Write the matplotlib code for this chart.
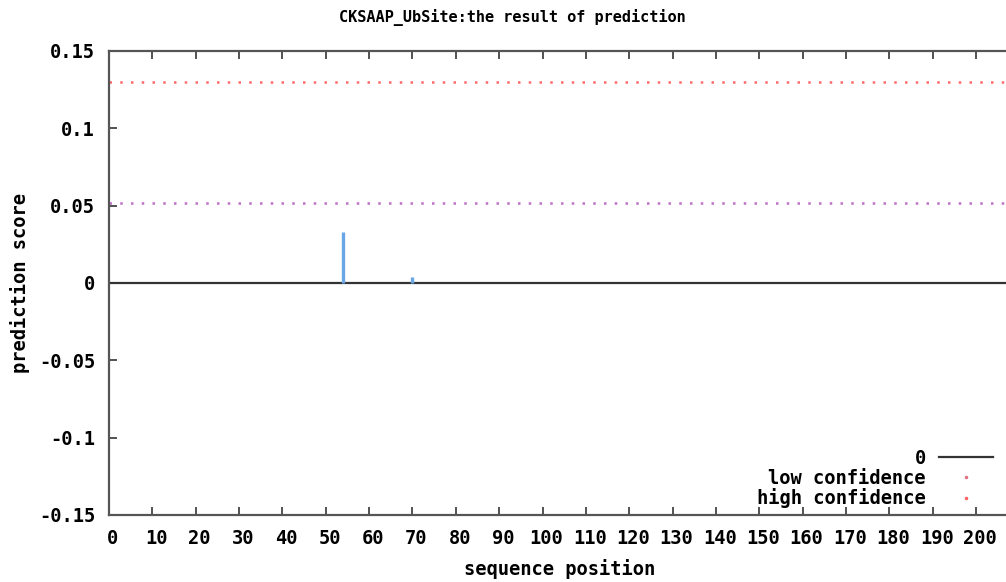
import matplotlib
matplotlib.use("Agg")
import matplotlib.pyplot as plt
import matplotlib.transforms as mtransforms
from matplotlib.lines import Line2D

# sequence positions with a non-zero prediction score
positions = [54, 70]
scores = [0.033, 0.004]

low_threshold = 0.052
high_threshold = 0.13

x_ticks = list(range(0, 210, 10))
y_ticks = [-0.15, -0.1, -0.05, 0, 0.05, 0.1, 0.15]
y_labels = ["-0.15", "-0.1", "-0.05", "0", "0.05", "0.1", "0.15"]

font = {"family": "DejaVu Sans Mono", "weight": "bold", "size": 13.5}
title_font = {"family": "DejaVu Sans Mono", "weight": "bold", "size": 11}
plt.rcParams['font.family'] = 'DejaVu Sans Mono'
plt.rcParams['font.weight'] = 'bold'

fig = plt.figure(figsize=(10.06, 5.82), dpi=100)
W, H = 1006, 582
left, right, top, bottom = 109, 109 + 215 * 4.335, 51, 515
ax = fig.add_axes([left / W, 1 - bottom / H, (right - left) / W, (bottom - top) / H])

xmax = 215
ax.plot([0, xmax], [0, 0], color='#333333', linewidth=1.6)
ax.plot([0, xmax], [low_threshold] * 2, linestyle=(0, (1, 3.3)), color='#c070c8',
        linewidth=1.8)
ax.plot([0, xmax], [high_threshold] * 2, linestyle=(0, (1, 3.3)), color='#ff6a6a',
        linewidth=1.8)
ax.vlines(positions, 0, scores, color='#6aa6e6', linewidth=2.4)

ax.set_xlim(0, xmax)
ax.set_ylim(-0.15, 0.15)
ax.set_xticks(x_ticks)
ax.set_xticklabels([str(t) for t in x_ticks], fontdict=font)
ax.set_yticks(y_ticks)
ax.set_yticklabels(y_labels, fontdict=font)
ax.tick_params(direction='in', length=6, width=1.3, color='#444444', top=True,
               right=False, pad=10)
shift = mtransforms.ScaledTranslation(4 / 100, 0, fig.dpi_scale_trans)
for lbl in ax.get_xticklabels():
    lbl.set_transform(lbl.get_transform() + shift)
for s in ax.spines.values():
    s.set_color('#555555')
    s.set_linewidth(1.6)

fig.text(512 / W, 1 - 18 / H, "CKSAAP_UbSite:the result of prediction", ha='center',
         va='center', fontdict=title_font)
fig.text(560 / W, 1 - 569 / H, "sequence position", ha='center', va='center', fontdict=font)
fig.text(20 / W, 1 - 283 / H, "prediction score", ha='center', va='center',
         rotation=90, fontdict=font)

handles = [
    Line2D([], [], color='#333333', linewidth=1.6),
    Line2D([], [], linestyle='none', marker='.', markersize=3, color='#e07080'),
    Line2D([], [], linestyle='none', marker='.', markersize=3, color='#ff6060'),
]
labels = ['0', 'low confidence', 'high confidence']
leg = fig.legend(handles, labels, loc='lower right', bbox_to_anchor=(1000 / W, 1 - 516 / H),
                 markerfirst=False, frameon=False, prop=font, handlelength=2.85,
                 labelspacing=0.05, handletextpad=0.7, borderaxespad=0)
for t in leg.get_texts():
    t.set_ha('right')

fig.savefig("out.png", dpi=100)
